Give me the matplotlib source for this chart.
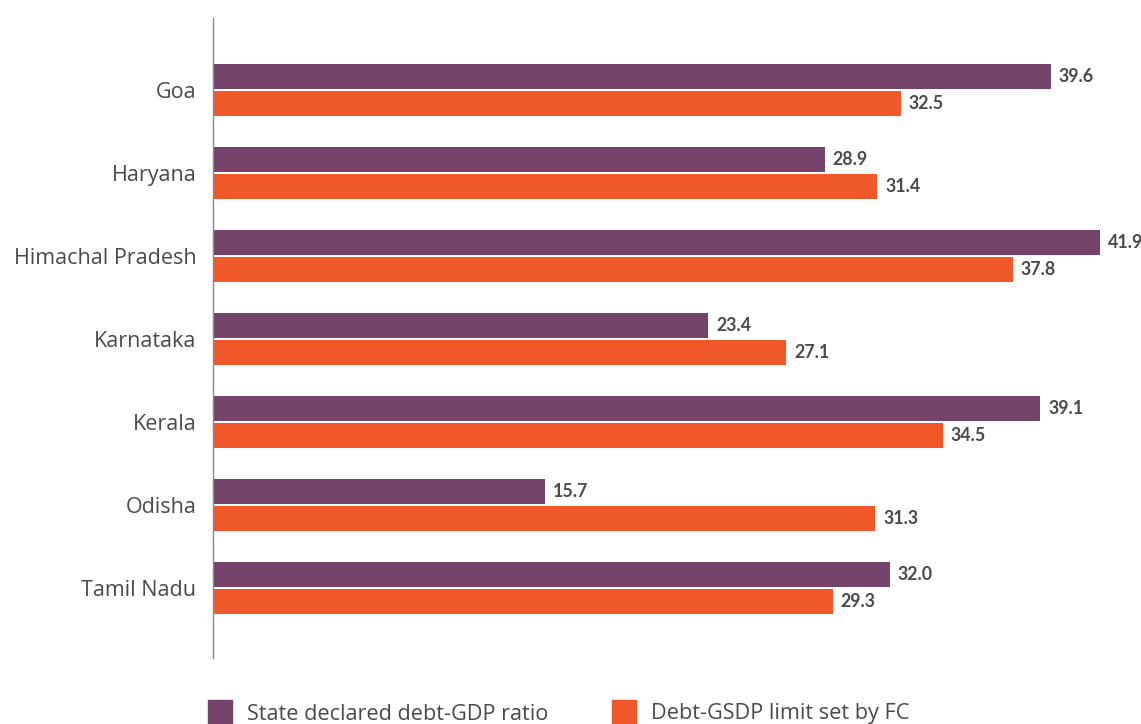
import matplotlib
matplotlib.use("Agg")
import matplotlib.pyplot as plt
from matplotlib.patches import Rectangle
import numpy as np

states = ["Goa", "Haryana", "Himachal Pradesh", "Karnataka", "Kerala", "Odisha", "Tamil Nadu"]
declared = [39.6, 28.9, 41.9, 23.4, 39.1, 15.7, 32.0]
fc_limit = [32.5, 31.4, 37.8, 27.1, 34.5, 31.3, 29.3]
series_names = ["State declared debt-GDP ratio", "Debt-GSDP limit set by FC"]
colors = ["#75426A", "#F0582A"]

plt.rcParams['font.family'] = ['Open Sans', 'DejaVu Sans']

W, H = 1141, 724
fig = plt.figure(figsize=(W / 100, H / 100), dpi=100)
ax = fig.add_axes([213 / W, 1 - 658 / H, (W - 213) / W, (658 - 18) / H])

y = np.arange(len(states))
bh = 0.30
off = 0.165
ax.barh(y - off, declared, height=bh, color=colors[0])
ax.barh(y + off, fc_limit, height=bh, color=colors[1])

for yi, v in zip(y - off, declared):
    ax.text(v + 0.37, yi, f"{v:.1f}", va="center", ha="left", fontsize=12.8,
            fontweight="bold", color="#4a4a4a", family=["Lato", "DejaVu Sans"])
for yi, v in zip(y + off, fc_limit):
    ax.text(v + 0.37, yi, f"{v:.1f}", va="center", ha="left", fontsize=12.8,
            fontweight="bold", color="#4a4a4a", family=["Lato", "DejaVu Sans"])

ax.set_xlim(0, (W - 213) / 21.16)
ax.set_ylim(len(states) - 1 + 0.843, -0.867)
ax.set_yticks(y)
ax.set_yticklabels(states, fontsize=15.5, color="#4a4a4a")
ax.tick_params(axis="y", length=0, pad=12)
ax.set_xticks([])
for s in ["top", "right", "bottom"]:
    ax.spines[s].set_visible(False)
ax.spines["left"].set_color("#888888")
ax.spines["left"].set_linewidth(1.0)

# legend
for x0, name, c in [(208, series_names[0], colors[0]), (612, series_names[1], colors[1])]:
    fig.patches.append(Rectangle((x0 / W, 0), 24 / W, 24 / H, transform=fig.transFigure,
                                 color=c, figure=fig))
    fig.text((x0 + 39) / W, 10 / H, name, fontsize=15.6, color="#4a4a4a", va="center", ha="left")

fig.savefig("out.png", dpi=100)
